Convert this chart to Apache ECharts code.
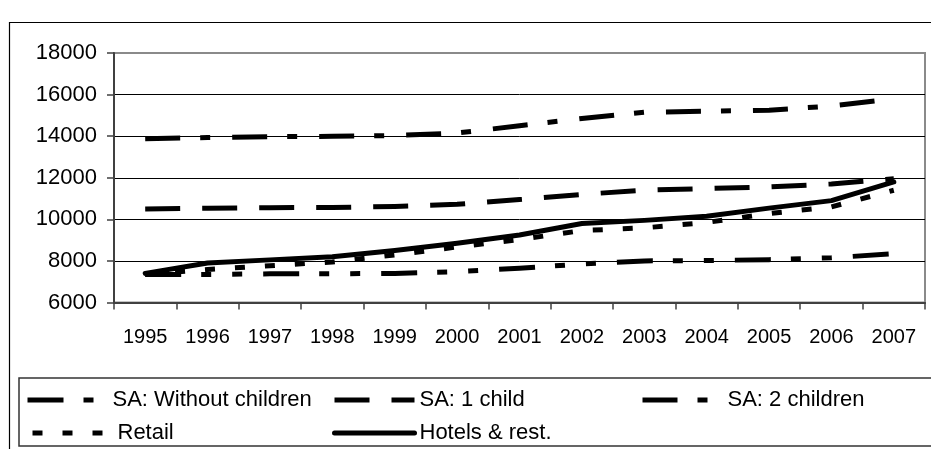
<!DOCTYPE html>
<html>
<head>
<meta charset="utf-8">
<script src="https://cdn.jsdelivr.net/npm/echarts@6/dist/echarts.min.js"></script>
<style>
html,body{margin:0;padding:0;background:#fff;}
#c{width:931px;height:449px;}
</style>
</head>
<body>
<div id="c"></div>
<script>
const years = ['1995','1996','1997','1998','1999','2000','2001','2002','2003','2004','2005','2006','2007'];
const yTicks = { min: 6000, max: 18000, step: 2000 };
const saWithout = [7350,7350,7380,7380,7400,7480,7650,7850,8000,8020,8060,8150,8350];
const sa1 = [10500,10530,10560,10570,10620,10720,10950,11200,11400,11480,11560,11700,11950];
const sa2 = [13880,13930,13980,13990,14030,14150,14500,14850,15150,15200,15250,15450,15800];
const retail = [7350,7590,7770,7950,8290,8670,9030,9460,9590,9850,10280,10600,11400];
const hotels = [7400,7900,8050,8200,8500,8850,9250,9800,9950,10150,10540,10900,11800];
const names = ['SA: Without children','SA: 1 child','SA: 2 children','Retail','Hotels & rest.'];

const FONT = "'Liberation Sans', Arial, sans-serif";
const dashes = [[36,20,10,21,10,21],[35,22],[35,20,10,22],[10,20],'solid'];
const caps = ['butt','butt','butt','butt','round'];
const chart = echarts.init(document.getElementById('c'), null, {renderer:'canvas'});

function ser(i, data, z) {
  return {
    name:names[i], type:'line', data, symbol:'none', z: z, animation:false,
    lineStyle:{color:'#000', width:5, type:dashes[i], cap:caps[i], join:'round'}
  };
}
function leg(i, left, top) {
  return {
    data:[names[i]], left:left, top:top, itemWidth:80, itemHeight:14, itemGap:0,
    selectedMode:false, padding:0,
    itemStyle:{opacity:0, borderWidth:0},
    lineStyle:{color:'#000', width:5, type:dashes[i], cap:caps[i]},
    textStyle:{fontFamily:FONT, fontSize:22, color:'#000'}
  };
}
chart.setOption({
  animation:false,
  backgroundColor:'#fff',
  graphic:[
    {type:'rect', shape:{x:9.5, y:22.5, width:1000, height:1000}, style:{fill:null, stroke:'#000', lineWidth:1.2}, z:-10},
    {type:'rect', shape:{x:19, y:378, width:1000, height:68}, style:{fill:null, stroke:'#333', lineWidth:1.5}, z:-10}
  ],
  grid:{left:114, top:53, width:811, height:249.5, show:true, borderColor:'#8a8a8a', borderWidth:2, backgroundColor:'transparent'},
  legend:[
    leg(0, 25, 389),
    leg(1, 332, 389),
    leg(2, 640, 389),
    leg(3, 30, 422),
    leg(4, 332, 422)
  ],
  xAxis:{
    type:'category', data:years, boundaryGap:true,
    axisLine:{lineStyle:{color:'#404040', width:2}},
    axisTick:{show:true, length:7, lineStyle:{color:'#404040', width:1.5}},
    axisLabel:{fontFamily:FONT, fontSize:20, color:'#000', margin:25, interval:0}
  },
  yAxis:{
    type:'value', min:yTicks.min, max:yTicks.max, interval:yTicks.step,
    axisLine:{show:true, lineStyle:{color:'#404040', width:2}},
    axisTick:{show:true, length:7, lineStyle:{color:'#404040', width:1.5}},
    axisLabel:{fontFamily:FONT, fontSize:22, color:'#000', margin:17, formatter:(v)=>String(v)},
    splitLine:{show:true, lineStyle:{color:['#000','#000','#000','#000','#000','#000','#8a8a8a'], width:1}}
  },
  series:[
    ser(0, saWithout, 2),
    ser(1, sa1, 2),
    ser(2, sa2, 2),
    ser(3, retail, 2),
    ser(4, hotels, 3)
  ]
});
</script>
</body>
</html>
